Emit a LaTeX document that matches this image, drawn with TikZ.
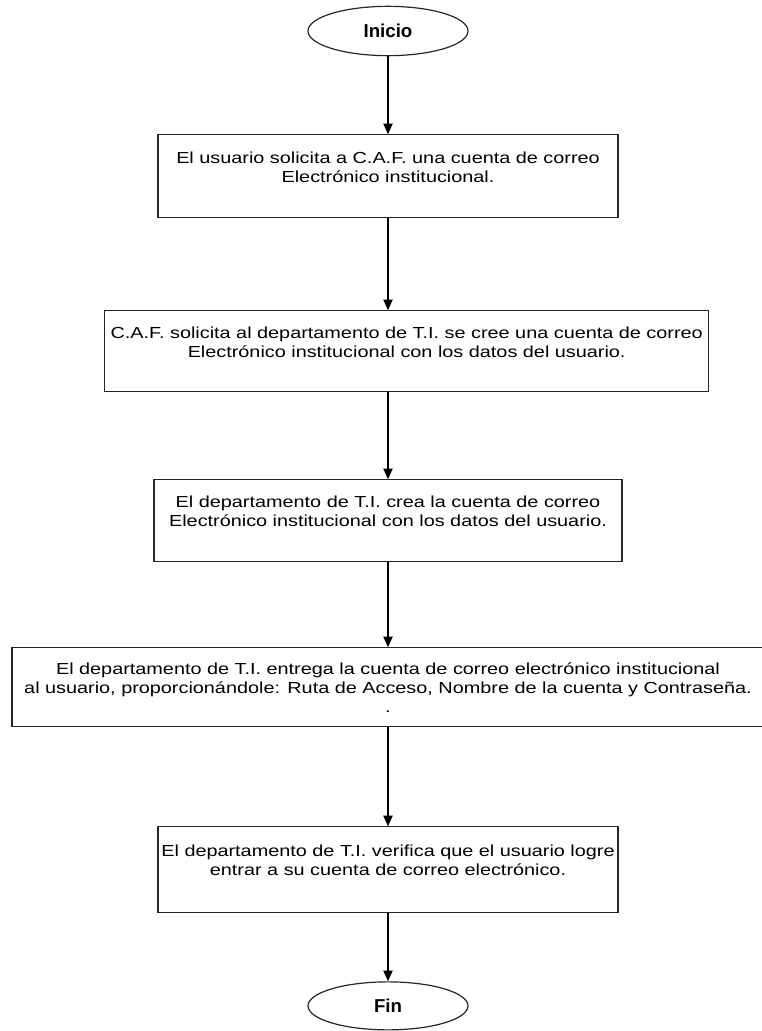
\documentclass[tikz,border=0pt]{standalone}
\usepackage{fontspec}
\setmainfont{Liberation Sans}
\newfontfamily\widefont[FakeStretch=1.24]{Liberation Sans}
\usetikzlibrary{positioning, arrows.meta, shapes.geometric}

\begin{document}
\begin{tikzpicture}[->,>={Triangle[length=8pt,width=7pt]}, on grid, line width=0.9pt,
  term/.style={ellipse, draw=black!85, inner sep=0pt, minimum width=120pt, minimum height=37pt,
    font=\fontsize{14}{16}\selectfont\bfseries},
  proc/.style={rectangle, draw=black!85, align=center, inner sep=0pt,
    font=\widefont\fontsize{12}{14.25}\selectfont}]
  \useasboundingbox (0,0) rectangle (570.75pt,-773.25pt);
  \node[term] (ini) at (291pt,-23.25pt) {Inicio};
  \node[proc, minimum width=345pt, minimum height=62.25pt] (s1) [below=109pt of ini]
    {El usuario solicita a C.A.F. una cuenta de correo\\Electrónico institucional.\\\mbox{}};
  \node[proc, minimum width=453pt, minimum height=60.75pt, xshift=14pt] (s2) [below=131.25pt of s1]
    {C.A.F. solicita al departamento de T.I. se cree una cuenta de correo\\Electrónico institucional con los datos del usuario.\\\mbox{}};
  \node[proc, minimum width=351pt, minimum height=61.5pt, xshift=-14pt] (s3) [below=127.1pt of s2]
    {El departamento de T.I. crea la cuenta de correo\\Electrónico institucional con los datos del usuario.\\\mbox{}};
  \node[proc, minimum width=564pt, minimum height=59.25pt] (s4) [below=124.9pt of s3]
    {El departamento de T.I. entrega la cuenta de correo electrónico institucional\\al usuario, proporcionándole: Ruta de Acceso, Nombre de la cuenta y Contraseña.\\.};
  \node[proc, minimum width=345pt, minimum height=64.5pt] (s5) [below=136.9pt of s4]
    {El departamento de T.I. verifica que el usuario logre\\entrar a su cuenta de correo electrónico.\\\mbox{}};
  \node[term, minimum height=36pt] (fin) [below=102pt of s5] {Fin};
  \draw (ini) -- (s1);
  \draw (s1.south) -- (s1.south |- s2.north);
  \draw (s3.north |- s2.south) -- (s3);
  \draw (s3) -- (s4);
  \draw (s4) -- (s5);
  \draw (s5) -- (fin);
\end{tikzpicture}
\end{document}
